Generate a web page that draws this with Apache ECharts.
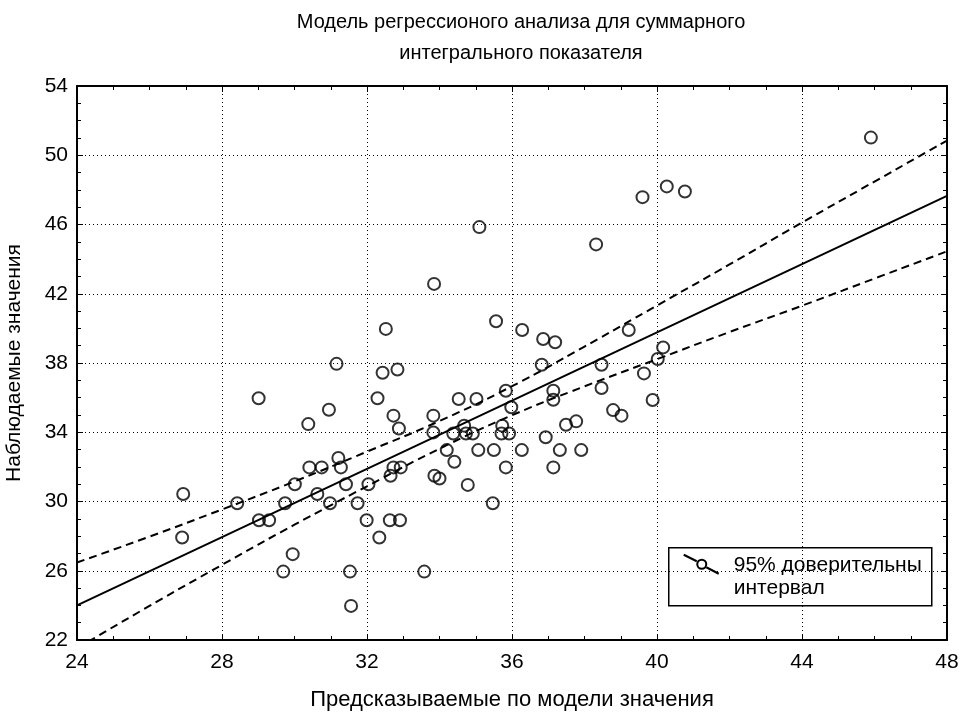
<!DOCTYPE html>
<html>
<head>
<meta charset="utf-8">
<script src="https://cdn.jsdelivr.net/npm/echarts@6/dist/echarts.min.js"></script>
<style>
  html, body { margin: 0; padding: 0; background: #fff; }
  #chart { width: 973px; height: 716px; }
</style>
</head>
<body>
<div id="chart"></div>
<script>
// Predicted (model) values and observed values for each case
const predicted = [
  35.10, 38.32, 33.85, 39.60, 40.27, 40.77, 45.90, 32.52, 35.56, 36.28,
  36.86, 37.19, 39.22, 40.17, 40.02, 39.64, 39.88, 31.16, 29.01, 30.95,
  30.38, 31.21, 31.28, 30.41, 30.75, 30.01, 31.42, 30.63, 26.93, 28.42,
  29.74, 30.98, 31.74, 29.02, 29.30, 26.90, 29.95, 29.69, 31.53, 31.56,
  32.43, 32.84, 32.29, 32.73, 32.88, 33.83, 34.53, 35.02, 33.83, 34.38,
  34.68, 34.73, 34.92, 35.73, 35.71, 35.92, 35.83, 35.98, 36.82, 37.14,
  37.14, 38.47, 38.47, 38.79, 39.02, 37.49, 37.77, 36.93, 35.07, 35.50,
  36.27, 37.32, 37.91, 34.20, 34.41, 35.83, 37.14, 32.65, 32.73, 32.93,
  33.86, 34.00, 34.78, 32.04, 35.47, 31.99, 32.63, 32.91, 32.34, 33.58
];
const observed = [
  45.85, 44.85, 42.57, 47.58, 48.20, 47.91, 51.02, 39.97, 40.41, 39.91,
  39.39, 39.20, 39.91, 38.90, 38.23, 37.40, 35.86, 37.95, 35.96, 35.30,
  34.47, 32.51, 31.97, 31.97, 31.97, 31.00, 31.00, 30.43, 30.43, 29.90,
  29.90, 29.90, 29.90, 28.92, 28.92, 27.92, 26.96, 25.95, 25.95, 23.97,
  37.44, 37.62, 35.96, 34.96, 34.22, 34.96, 35.92, 35.92, 33.99, 33.93,
  34.38, 33.93, 33.93, 34.38, 33.93, 33.93, 36.40, 35.44, 37.90, 36.40,
  35.88, 37.90, 36.56, 35.28, 34.96, 34.43, 34.63, 33.71, 32.97, 32.97,
  32.97, 32.97, 32.97, 32.97, 32.30, 31.97, 31.97, 31.49, 31.97, 31.97,
  31.49, 31.33, 30.96, 31.00, 29.90, 28.92, 28.92, 28.92, 27.92, 25.95
];

// Fitted regression line (end points)
const fitX = [24, 48];
const fitY = [24.0, 47.65];

// 95% confidence band around the fit
const bandX     = [24, 26, 28, 30, 32, 34, 36, 38, 40, 42, 44, 46, 48];
const bandUpper = [26.48, 27.97, 29.54, 31.16, 32.88, 34.65, 36.66, 38.95, 41.32, 43.69, 46.11, 48.48, 50.85];
const bandLower = [21.52, 23.97, 26.34, 28.66, 30.88, 33.05, 34.98, 36.65, 38.22, 39.79, 41.31, 42.88, 44.45];

// Axis ticks
const xTicks = { min: 24, max: 48, step: 4 };
const yTicks = { min: 22, max: 54, step: 4 };

const titleText = 'Модель регрессионого анализа для суммарного\nинтегрального показателя';
const xName = 'Предсказываемые по модели значения';
const yName = 'Наблюдаемые значения';
const bandName = '95% доверительны\nинтервал';

const FONT = '"Liberation Sans", Arial, sans-serif';
const zip = (xs, ys) => xs.map((x, i) => [x, ys[i]]);

const frameLine = { show: true, onZero: false, lineStyle: { color: '#000', width: 2 } };
const innerTick = { show: true, inside: true, length: 6, lineStyle: { color: '#000', width: 1 } };
const innerMinor = { show: true, splitNumber: 4, length: 4, lineStyle: { color: '#000', width: 1 } };
const labelStyle = { color: '#000', fontFamily: FONT, fontSize: 21 };
const gridDots = { show: true, lineStyle: { color: '#000', width: 1, type: [1, 3] } };

const chart = echarts.init(document.getElementById('chart'), null, { renderer: 'canvas' });

chart.setOption({
  backgroundColor: '#fff',
  animation: false,
  title: {
    text: titleText,
    left: 516,
    top: 2,
    textAlign: 'center',
    textStyle: { fontFamily: FONT, fontSize: 20, fontWeight: 'normal', color: '#000', lineHeight: 31 }
  },
  grid: { left: 77, right: 26, top: 86, bottom: 76, containLabel: false, outerBoundsMode: 'none' },
  xAxis: [
    {
      type: 'value', position: 'bottom',
      min: xTicks.min, max: xTicks.max, interval: xTicks.step,
      name: xName, nameLocation: 'middle', nameGap: 49,
      nameTextStyle: { fontFamily: FONT, fontSize: 22, color: '#000' },
      axisLine: frameLine, axisTick: innerTick, minorTick: innerMinor,
      axisLabel: Object.assign({ margin: 12 }, labelStyle),
      splitLine: gridDots
    },
    {
      type: 'value', position: 'top',
      min: xTicks.min, max: xTicks.max, interval: xTicks.step,
      axisLine: frameLine, axisTick: innerTick, minorTick: innerMinor,
      axisLabel: { show: false }, splitLine: { show: false }
    }
  ],
  yAxis: [
    {
      type: 'value', position: 'left',
      min: yTicks.min, max: yTicks.max, interval: yTicks.step,
      name: yName, nameLocation: 'middle', nameGap: 52,
      nameTextStyle: { fontFamily: FONT, fontSize: 21, color: '#000' },
      axisLine: frameLine, axisTick: innerTick, minorTick: innerMinor,
      axisLabel: Object.assign({ margin: 9 }, labelStyle),
      splitLine: gridDots
    },
    {
      type: 'value', position: 'right',
      min: yTicks.min, max: yTicks.max, interval: yTicks.step,
      axisLine: frameLine, axisTick: innerTick, minorTick: innerMinor,
      axisLabel: { show: false }, splitLine: { show: false }
    }
  ],
  series: [
    {
      name: bandName + ' (верх)',
      type: 'line', smooth: true, symbol: 'none',
      data: zip(bandX, bandUpper),
      lineStyle: { color: '#000', width: 2, type: [8, 5] }
    },
    {
      name: bandName + ' (низ)',
      type: 'line', smooth: true, symbol: 'none',
      data: zip(bandX, bandLower),
      lineStyle: { color: '#000', width: 2, type: [8, 5] }
    },
    {
      name: 'Регрессия',
      type: 'line', symbol: 'none',
      data: zip(fitX, fitY),
      lineStyle: { color: '#000', width: 2 }
    },
    {
      name: 'Наблюдения',
      type: 'scatter',
      symbol: 'circle', symbolSize: 12,
      data: zip(predicted, observed),
      itemStyle: { color: 'rgba(0,0,0,0)', borderColor: '#000', borderWidth: 2 },
      z: 5
    }
  ],
  graphic: [
    {
      type: 'group', left: 668, top: 547, z: 100,
      children: [
        { type: 'rect', shape: { x: 0, y: 0, width: 263, height: 58 },
          style: { fill: '#fff', stroke: '#000', lineWidth: 1.5 } },
        { type: 'line', shape: { x1: 15, y1: 7, x2: 28, y2: 13.5 },
          style: { stroke: '#000', lineWidth: 2 } },
        { type: 'circle', shape: { cx: 33, cy: 16.5, r: 4.5 },
          style: { fill: 'none', stroke: '#000', lineWidth: 2 } },
        { type: 'line', shape: { x1: 37.5, y1: 19.5, x2: 50, y2: 26 },
          style: { stroke: '#000', lineWidth: 2 } },
        { type: 'text', x: 65, y: 6,
          style: { text: bandName, fill: '#000', font: '21px ' + FONT, lineHeight: 23 } }
      ]
    }
  ]
});
</script>
</body>
</html>
